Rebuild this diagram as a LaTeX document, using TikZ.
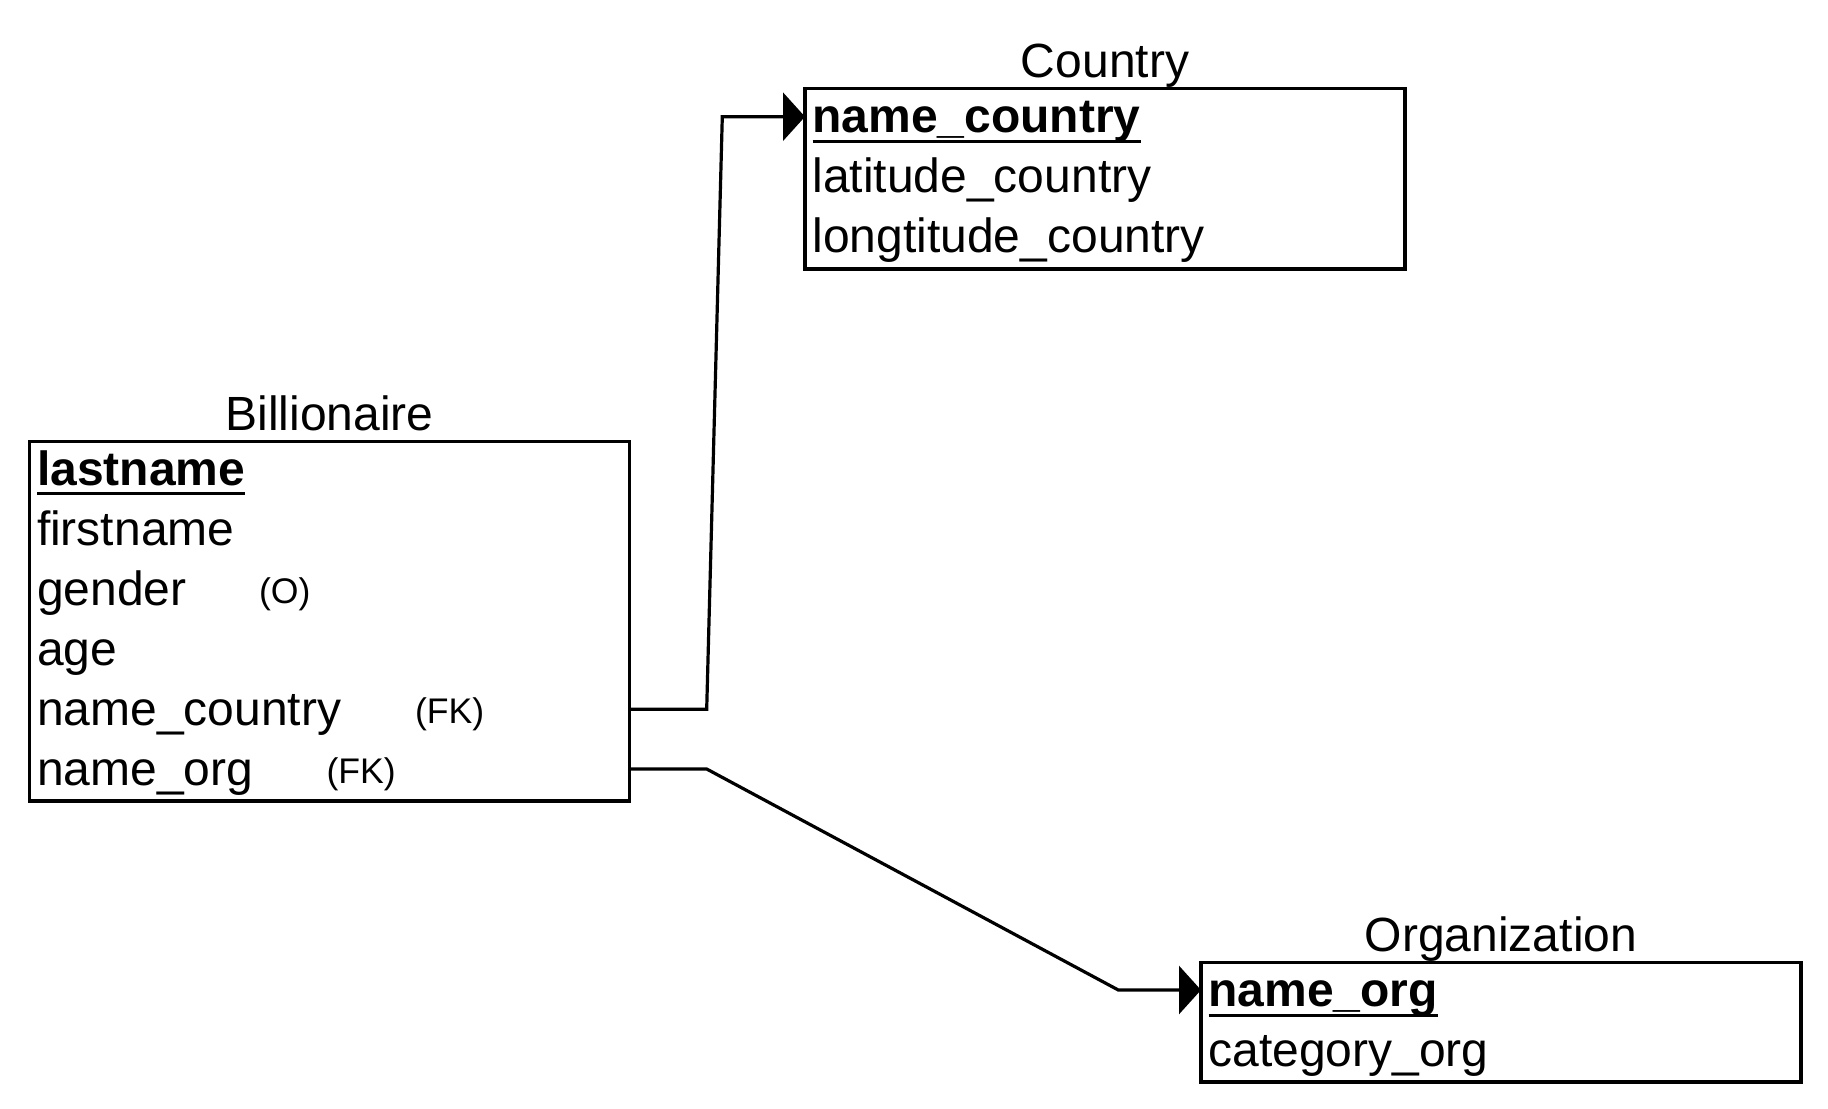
\documentclass[tikz,border=0pt]{standalone}
\usepackage{fontspec}
\setmainfont{Liberation Sans}
\usetikzlibrary{arrows.meta}
\begin{document}
\begin{tikzpicture}[x=0.5pt,y=-0.5pt,
  every node/.style={inner sep=0pt,outer sep=0pt},
  tbl/.style={draw,line width=1.8pt,anchor=north west,minimum width=300pt},
  title/.style={anchor=base,font=\fontsize{24}{28}\selectfont},
  row/.style={anchor=base west,font=\fontsize{24}{28}\selectfont},
  keyrow/.style={anchor=base west,font=\fontsize{24}{28}\selectfont\bfseries},
  note/.style={anchor=base west,font=\fontsize{17.8}{21}\selectfont},
  uline/.style={line width=1.4pt},
  fk/.style={line width=1.6pt,-{Triangle[length=11pt,width=24pt]}}]
\useasboundingbox (0,0) rectangle (1828,1109);

% tables
\node[tbl,minimum height=90.25pt] (country) at (805,88.3) {};
\node[tbl,minimum height=179.7pt] (bill) at (29.5,441.3) {};
\node[tbl,minimum height=59.7pt] (org) at (1201,962.3) {};

% titles
\node[title] (countryT) at (country.north |- 0,77.5) {Country};
\node[title] (billT) at (bill.north |- 0,430) {Billionaire};
\node[title] (orgT) at (org.north |- 0,951.3) {Organization};

% Country rows
\node[keyrow] (c1) at (812.5,132.5) {name\_country};
\draw[uline] ([yshift=-4.3pt]c1.base west) -- ([yshift=-4.3pt]c1.base east);
\node[row] (c2) at (812.5,192.5) {latitude\_country};
\node[row] (c3) at (812.5,252.5) {longtitude\_country};

% Billionaire rows
\node[keyrow] (b1) at (37,485) {lastname};
\draw[uline] ([yshift=-4.3pt]b1.base west) -- ([yshift=-4.3pt]b1.base east);
\node[row] (b2) at (37,545) {firstname};
\node[row] (b3) at (37,605) {gender};
\node[note] (b3n) at (259,603) {(O)};
\node[row] (b4) at (37,665) {age};
\node[row] (b5) at (37,725) {name\_country};
\node[note] (b5n) at (415,723) {(FK)};
\node[row] (b6) at (37,785) {name\_org};
\node[note] (b6n) at (326.5,783) {(FK)};

% Organization rows
\node[keyrow] (o1) at (1208.5,1006.5) {name\_org};
\draw[uline] ([yshift=-4.3pt]o1.base west) -- ([yshift=-4.3pt]o1.base east);
\node[row] (o2) at (1208.5,1066.5) {category\_org};

% connectors
\draw[fk] (bill.east |- 0,709.2) -- (706.7,709.2) -- (722.3,116.7) -- (country.west |- 0,116.7);
\draw[fk] (bill.east |- 0,769) -- (706.7,769) -- (1118.3,990) -- (org.west |- 0,990);
\end{tikzpicture}
\end{document}
